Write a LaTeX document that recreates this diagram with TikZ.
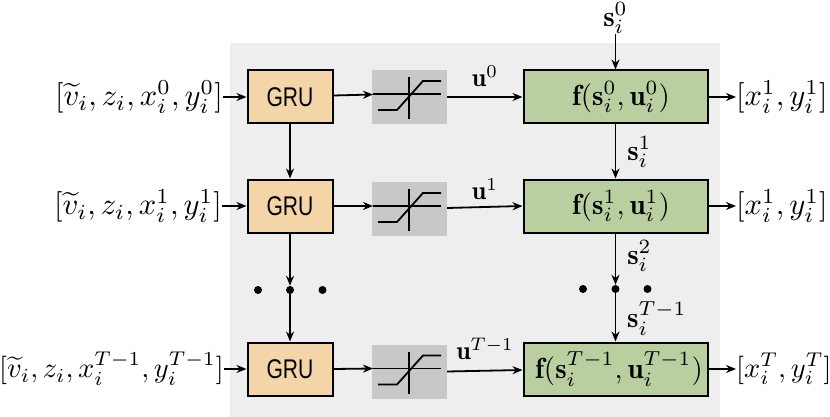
\documentclass[tikz,border=0pt]{standalone}
\usepackage{amsmath}
\usepackage{graphicx}
\usepackage{fontspec}
\setsansfont{Liberation Sans}
\usetikzlibrary{arrows.meta}
\definecolor{bgc}{HTML}{EEEEEE}
\definecolor{satc}{HTML}{C8C8C8}
\definecolor{gruc}{HTML}{F3D5A8}
\definecolor{grnc}{HTML}{B9CFA0}
\tikzset{
  x=1pt,y=-1pt,
  grubox/.style={draw=black,line width=2pt,fill=gruc,minimum width=85pt,minimum height=53pt,inner sep=0pt,font=\sffamily\fontsize{27}{30}\selectfont},
  fbox/.style={draw=black,line width=2pt,fill=grnc,minimum width=184pt,minimum height=53pt,inner sep=0pt},
  satbox/.style={fill=satc,minimum width=75pt,minimum height=54pt,inner sep=0pt},
  conn/.style={line width=1.8pt,-{Stealth[length=10pt,width=8pt]}},
  lab/.style={inner sep=0pt},
  sym/.style={line width=1.8pt},
  dotn/.style={circle,fill=black,inner sep=0pt,minimum size=8pt}
}
\newcommand{\grutxt}{\scalebox{0.78}[1]{GRU}}
\newcommand{\mt}[1]{\scalebox{2.9}{$#1$}}
\newcommand{\mtb}[1]{\scalebox{3.05}{$#1$}}
\begin{document}
\begin{tikzpicture}
\useasboundingbox (0,0) rectangle (830,417);
\fill[bgc] (230,43) rectangle (720,417);

\node[satbox] (s0) at (409.5,97) {};
\node[satbox] (s1) at (409.5,209) {};
\node[satbox] (s2) at (409.5,371.5) {};
\coordinate (s0p) at (373,94.5);
\coordinate (s1p) at (373,206);
\coordinate (s2p) at (373,368.5);
\foreach \n in {s0,s1,s2}{
  \draw[sym] (\n.center) ++(-36.5,-3) -- ++(68,0);
  \draw[sym] (\n.center) ++(-0.5,-20) -- ++(0,42);
  \draw[sym] (\n.center) ++(-31.5,13) -- ++(19,0) -- ++(26,-29) -- ++(18,0);
}

\node[grubox] (g0) at (290,97) {\grutxt};
\node[grubox] (g1) at (290,206) {\grutxt};
\node[grubox] (g2) at (290,369) {\grutxt};
\node[fbox] (f0) at (615.5,97) {\hspace*{11pt}\mt{\mathbf{f}(\mathbf{s}_i^0,\mathbf{u}_i^0)}};
\node[fbox] (f1) at (615.5,206) {\hspace*{11pt}\mt{\mathbf{f}(\mathbf{s}_i^1,\mathbf{u}_i^1)}};
\node[fbox] (f2) at (615.5,369) {\hspace*{7pt}\mt{\mathbf{f}(\mathbf{s}_i^{T-1},\mathbf{u}_i^{T-1})}};

\node[lab,anchor=east] (i0) at (223,97) {\mtb{[\widetilde{v}_i,z_i,x_i^0,y_i^0]}};
\node[lab,anchor=east] (i1) at (222,206) {\mtb{[\widetilde{v}_i,z_i,x_i^1,y_i^1]}};
\node[lab,anchor=east] (i2) at (224,369) {\scalebox{2.84}{$[\widetilde{v}_i,z_i,x_i^{T-1},y_i^{T-1}]$}};
\node[lab,anchor=west] (o0) at (736,97) {\mtb{[x_i^1,y_i^1]}};
\node[lab,anchor=west] (o1) at (736,206) {\mtb{[x_i^1,y_i^1]}};
\node[lab,anchor=west] (o2) at (736,369) {\scalebox{2.84}{$[x_i^T,y_i^T]$}};

\node[lab] (s00) at (615.5,18) {\mt{\mathbf{s}_i^0}};
\node[lab] (s1l) at (639.5,152) {\mt{\mathbf{s}_i^1}};
\node[lab] (s2l) at (639.5,256) {\mt{\mathbf{s}_i^2}};
\node[lab,anchor=west] (sTl) at (627,318.5) {\mt{\mathbf{s}_i^{T-1}}};
\node[lab] (u0) at (485,76) {\scalebox{2.6}{$\mathbf{u}^0$}};
\node[lab] (u1) at (485,189) {\scalebox{2.6}{$\mathbf{u}^1$}};
\node[lab] (uT) at (485,349) {\scalebox{2.6}{$\mathbf{u}^{T-1}$}};

\node[dotn] (da) at (258,290) {};
\node[dotn] (db) at (290,290) {};
\node[dotn] (dc) at (322.5,290) {};
\node[dotn] (dd) at (583,289) {};
\node[dotn] (de) at (615.5,289) {};
\node[dotn] (df) at (647.5,289) {};

\draw[conn] (i0.east) -- (g0.west);
\draw[conn] (i1.east) -- (g1.west);
\draw[conn] (i2.east) -- (g2.west);
\draw[conn] ([yshift=1.5pt]g0.east) -- (s0p);
\draw[conn] (g1.east) -- (s1p);
\draw[conn] (g2.east) -- (s2p);
\draw[conn] (s0.east) -- (f0.west);
\draw[conn] ([yshift=1pt]s1.east) -- ([yshift=0pt]f1.west);
\draw[conn] (s2.east) -- ([yshift=-1pt]f2.west);
\draw[conn] (f0.east) -- (o0.west);
\draw[conn] (f1.east) -- (o1.west);
\draw[conn] (f2.east) -- (o2.west);
\draw[conn] (g0.south) -- (g1.north);
\draw[conn] (g1.south) -- (db.north);
\draw[conn] (db.south) -- (g2.north);
\draw[conn] (s00.south) -- (f0.north);
\draw[conn] (f0.south) -- (f1.north);
\draw[conn] (f1.south) -- (de.north);
\draw[conn] (de.south) -- (f2.north);
\end{tikzpicture}
\end{document}
